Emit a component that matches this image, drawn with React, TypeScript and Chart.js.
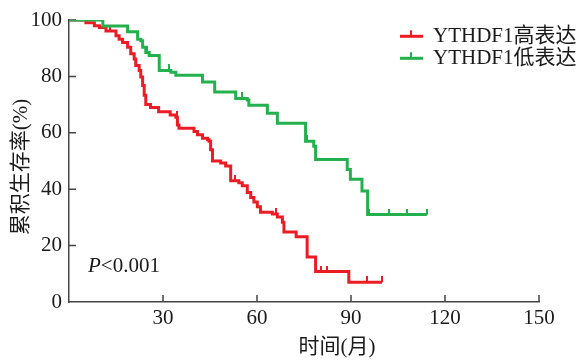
import React, { useEffect, useRef } from 'react';
import { Chart, registerables } from 'chart.js';

Chart.register(...registerables);

// ---- Data ----
const seriesNames = ['YTHDF1高表达', 'YTHDF1低表达'];
const seriesColors = ['#ED1C24', '#22B14C'];

// High-expression group (red): event times (months) and survival (%) after each step
const redTimes = [0, 5.4, 8.1, 9.7, 11.8, 15, 16, 17.1, 18.7, 19.7, 20.8, 21.3, 22.4, 22.9, 23.5, 24, 24.5, 26, 28.6, 32.3, 34.1, 34.6, 35.1, 39.9, 41, 42.6, 44.2, 44.7, 45.2, 45.8, 48.4, 50, 51.6, 54.2, 55.3, 56.9, 58, 59, 60.1, 61.1, 64.9, 66.5, 68.1, 68.6, 72.5, 76, 78.7, 89.3, 99.9];
const redSurv = [100, 99, 98, 97.3, 96.1, 94.4, 93.2, 92, 90.3, 88, 86.2, 83.9, 82.1, 79.8, 76.8, 73.3, 70, 69, 67.5, 66.3, 65.5, 62.8, 61.6, 60.5, 59.3, 58.1, 57.5, 57, 54, 50, 49.3, 48.2, 43, 42.3, 41.2, 38.8, 37.1, 35.5, 33.8, 31.8, 31.2, 30.1, 28.3, 24.8, 23.1, 16, 10.8, 7, 7];
const redCensorTimes = [13, 34.4, 53, 66, 80.3, 82.4, 95.1, 99.9];

// Low-expression group (green)
const greenTimes = [0, 10.8, 18.7, 21.9, 22.9, 23.5, 24.5, 25.6, 28.8, 32.5, 34.1, 42.6, 46.5, 53.2, 56.9, 57.4, 63.3, 66.5, 75.5, 78.1, 78.7, 88.8, 89.8, 93.5, 95.3, 114.2];
const greenSurv = [100, 97.9, 95.8, 93.2, 92.6, 90.3, 88.5, 87.4, 82.1, 81.5, 80.4, 78, 74.5, 72.2, 71.6, 69.8, 66.9, 63.4, 57, 55.2, 50.5, 47, 43.5, 39.4, 31, 31];
const greenCensorTimes = [10.5, 24.8, 32, 55.3, 57.6, 75.8, 95.7, 102, 108, 114.2];

const xTickValues = [0, 30, 60, 90, 120, 150];
const yTickValues = [0, 20, 40, 60, 80, 100];
const xTitle = '时间(月)';
const yTitle = '累积生存率(%)';
const pItalic = 'P';
const pRest = '<0.001';

const FONT = "'Liberation Serif', 'Noto Sans CJK SC', serif";

function survAt(times: number[], surv: number[], t: number) {
  let v = surv[0];
  for (let i = 0; i < times.length; i++) if (times[i] <= t) v = surv[i];
  return v;
}

function makeTick(color: string) {
  const c = document.createElement('canvas');
  c.width = 2;
  c.height = 12;
  const g = c.getContext('2d')!;
  g.fillStyle = color;
  g.fillRect(0, 0, 2, 6);
  return c;
}

const decorPlugin = {
  id: 'decor',
  beforeDatasetsDraw(chart: any) {
    const ctx = chart.ctx;
    const xs = chart.scales.x;
    const ys = chart.scales.y;
    const area = chart.chartArea;
    ctx.save();
    ctx.strokeStyle = '#444';
    ctx.lineWidth = 1.5;
    ctx.beginPath();
    xTickValues.forEach((v) => {
      if (v === 0) return;
      const px = xs.getPixelForValue(v);
      ctx.moveTo(px, area.bottom);
      ctx.lineTo(px, area.bottom - 7);
    });
    yTickValues.forEach((v) => {
      if (v === 0) return;
      const py = ys.getPixelForValue(v);
      ctx.moveTo(area.left, py);
      ctx.lineTo(area.left + 7, py);
    });
    ctx.stroke();
    ctx.restore();
  },
  afterDraw(chart: any) {
    const ctx = chart.ctx;
    ctx.save();
    ctx.fillStyle = '#1a1a1a';
    ctx.font = `21px ${FONT}`;
    // y title
    ctx.save();
    ctx.translate(21, 167);
    ctx.rotate(-Math.PI / 2);
    ctx.textAlign = 'center';
    ctx.textBaseline = 'middle';
    ctx.fillText(yTitle, 0, 0);
    ctx.restore();
    // x title
    ctx.textAlign = 'center';
    ctx.textBaseline = 'middle';
    ctx.fillText(xTitle, 337, 347);
    // P value
    ctx.textAlign = 'left';
    ctx.textBaseline = 'alphabetic';
    ctx.font = `italic 21px ${FONT}`;
    ctx.fillText(pItalic, 88, 272);
    const pw = ctx.measureText(pItalic).width;
    ctx.font = `21px ${FONT}`;
    ctx.fillText(pRest, 88 + pw, 272);
    // legend
    const rows = [36.3, 58.3];
    seriesNames.forEach((name, i) => {
      const y = rows[i];
      ctx.fillStyle = seriesColors[i];
      ctx.fillRect(400, y - 1.5, 23, 3);
      ctx.fillRect(410, y - 6, 2, 6);
      ctx.fillStyle = '#1a1a1a';
      ctx.font = `21px ${FONT}`;
      ctx.fillText(name, 433, y + 6);
    });
    ctx.restore();
  },
};

export default function App() {
  const ref = useRef<HTMLCanvasElement | null>(null);
  useEffect(() => {
    document.body.style.margin = '0';
    const canvas = ref.current!;
    const redLine = redTimes.map((t, i) => ({ x: t, y: redSurv[i] }));
    const greenLine = greenTimes.map((t, i) => ({ x: t, y: greenSurv[i] }));
    const redCens = redCensorTimes.map((t) => ({ x: t, y: survAt(redTimes, redSurv, t) }));
    const greenCens = greenCensorTimes.map((t) => ({ x: t, y: survAt(greenTimes, greenSurv, t) }));
    const chart = new Chart(canvas, {
      type: 'line',
      data: {
        datasets: [
          { label: seriesNames[1], data: greenLine, borderColor: seriesColors[1], borderWidth: 3, pointRadius: 0, stepped: 'before', borderJoinStyle: 'miter' },
          { label: seriesNames[1] + ' censored', data: greenCens, showLine: false, pointStyle: makeTick(seriesColors[1]), pointRadius: 4, borderWidth: 0 },
          { label: seriesNames[0], data: redLine, borderColor: seriesColors[0], borderWidth: 3, pointRadius: 0, stepped: 'before', borderJoinStyle: 'miter' },
          { label: seriesNames[0] + ' censored', data: redCens, showLine: false, pointStyle: makeTick(seriesColors[0]), pointRadius: 4, borderWidth: 0 },
        ] as any,
      },
      options: {
        animation: false,
        responsive: false,
        events: [],
        layout: { padding: { left: 0, top: 20, right: 48, bottom: 0 } },
        plugins: { legend: { display: false }, tooltip: { enabled: false } },
        scales: {
          x: {
            type: 'linear',
            min: 0,
            max: 150,
            afterFit: (s: any) => { s.height = 59; },
            afterBuildTicks: (s: any) => { s.ticks = xTickValues.map((v) => ({ value: v })); },
            grid: { display: false, drawTicks: false },
            border: { display: true, color: '#444', width: 1.5 },
            ticks: {
              padding: 4,
              color: '#1a1a1a',
              font: { family: FONT, size: 21 },
              maxRotation: 0,
              callback: (v: any) => (v === 0 ? '' : String(v)),
            },
          },
          y: {
            type: 'linear',
            min: 0,
            max: 100,
            afterFit: (s: any) => { s.width = 69; },
            afterBuildTicks: (s: any) => { s.ticks = yTickValues.map((v) => ({ value: v })); },
            grid: { display: false, drawTicks: false },
            border: { display: true, color: '#444', width: 1.5 },
            ticks: {
              padding: 7,
              color: '#1a1a1a',
              font: { family: FONT, size: 21 },
            },
          },
        },
      },
      plugins: [decorPlugin],
    });
    return () => chart.destroy();
  }, []);
  return (
    <div style={{ width: 587, height: 361, background: '#fff' }}>
      <canvas ref={ref} width={587} height={361} />
    </div>
  );
}
